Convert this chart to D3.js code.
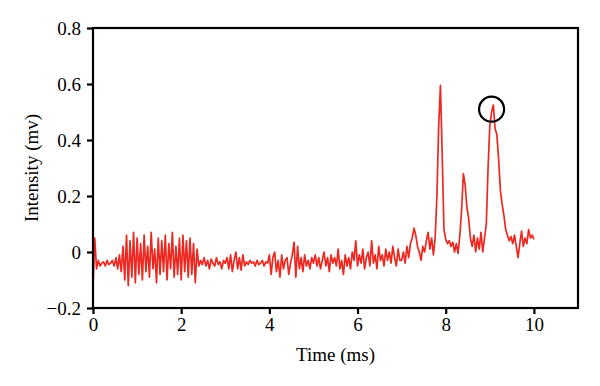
<!DOCTYPE html>
<html>
<head>
<meta charset="utf-8">
<script src="https://cdn.jsdelivr.net/npm/d3@7"></script>
<style>
  html, body { margin: 0; padding: 0; background: #fff; }
  svg { display: block; }
  .tick text { font-family: "Liberation Serif", "DejaVu Serif", serif; font-size: 19px; fill: #000; }
</style>
</head>
<body>
<svg id="chart" width="600" height="386"></svg>
<script>
// ---- data ----
const sampleInterval = 0.04; // ms between samples, starting at t = 0
const intensity = [
  // 0.00 - 0.96 ms
  -0.12, 0.05, -0.06, -0.03, -0.05, -0.04, -0.035, -0.05, -0.03, -0.045,
  -0.04, -0.03, -0.05, -0.02, -0.06, -0.01, -0.07, 0.02, -0.10, 0.06,
  -0.12, 0.04, -0.09, 0.07, -0.11,
  // 1.00 - 1.96 ms
  0.05, -0.08, 0.03, -0.10, 0.06, -0.07, 0.02, -0.09, 0.07, -0.06,
  0.01, -0.11, 0.05, -0.08, 0.04, -0.07, 0.06, -0.10, 0.03, -0.06,
  0.07, -0.09, 0.02, -0.08, 0.05,
  // 2.00 - 2.96 ms
  -0.10, 0.06, -0.07, 0.04, -0.09, 0.05, -0.08, 0.03, -0.11, 0.01,
  -0.05, -0.03, -0.045, -0.02, -0.05, -0.03, -0.06, -0.025, -0.04, -0.05,
  -0.02, -0.045, -0.035, -0.06, -0.03,
  // 3.00 - 3.96 ms
  -0.04, -0.02, -0.06, -0.01, -0.07, -0.03, 0.0, -0.06, -0.02, -0.065,
  -0.01, -0.05, -0.035, -0.045, -0.03, -0.04, -0.035, -0.05, -0.03, -0.045,
  -0.04, -0.03, -0.05, -0.035, -0.04,
  // 4.00 - 4.96 ms
  -0.01, -0.08, -0.02, 0.0, -0.07, -0.03, -0.09, -0.01, -0.06, -0.03,
  -0.02, -0.08, -0.04, -0.01, 0.035, -0.09, 0.02, -0.06, -0.02, -0.07,
  -0.01, -0.05, -0.03, -0.06, -0.02,
  // 5.00 - 5.96 ms
  -0.04, -0.01, -0.05, -0.02, -0.06, -0.03, 0.0, -0.05, -0.02, -0.07,
  -0.01, -0.04, -0.02, -0.05, 0.01, -0.06, -0.03, -0.08, -0.01, -0.05,
  -0.02, -0.06, 0.0, -0.03, 0.04,
  // 6.00 - 6.96 ms
  -0.05, -0.01, -0.04, 0.01, -0.06, -0.02, 0.0, -0.05, 0.04, -0.04,
  -0.01, -0.06, 0.02, -0.03, -0.01, -0.05, 0.01, -0.03, 0.0, -0.04,
  0.02, -0.02, -0.05, 0.01, -0.03,
  // 7.00 - 7.96 ms
  -0.03, 0.0, -0.04, 0.02, -0.02, 0.03, 0.05, 0.085, 0.06, 0.02,
  0.0, -0.03, 0.02, 0.0, 0.04, 0.07, 0.01, 0.05, -0.01, 0.05,
  0.2, 0.45, 0.595, 0.35, 0.08,
  // 8.00 - 8.96 ms
  0.045, 0.03, 0.04, 0.02, 0.035, 0.0, 0.03, -0.005, 0.06, 0.15,
  0.28, 0.24, 0.16, 0.12, 0.05, 0.02, 0.06, 0.0, 0.05, 0.01,
  0.07, 0.0, 0.05, 0.1, 0.3,
  // 9.00 - 10.00 ms
  0.45, 0.5, 0.525, 0.44, 0.42, 0.33, 0.22, 0.17, 0.13, 0.08,
  0.06, 0.04, 0.055, 0.03, 0.06, 0.02, -0.02, 0.03, 0.075, 0.02,
  0.05, 0.03, 0.08, 0.05, 0.06, 0.045
];
const xTicks = [0, 2, 4, 6, 8, 10];
const yTicks = [-0.2, 0, 0.2, 0.4, 0.6, 0.8];
const marker = { time: 9.04, value: 0.51 };
const xLabel = "Time (ms)";
const yLabel = "Intensity (mv)";

// ---- layout ----
const W = 600, H = 386;
const margin = { left: 93, top: 28, right: 22, bottom: 78 };
const iw = W - margin.left - margin.right;
const ih = H - margin.top - margin.bottom;

const svg = d3.select("#chart");
const g = svg.append("g").attr("transform", `translate(${margin.left},${margin.top})`);

const x = d3.scaleLinear().domain([0, 11]).range([0, iw]);
const y = d3.scaleLinear().domain([-0.2, 0.8]).range([ih, 0]);

const points = intensity.map((v, i) => ({ t: i * sampleInterval, v }));

// trace
const line = d3.line().x(d => x(d.t)).y(d => y(d.v));
g.append("path")
  .datum(points)
  .attr("fill", "none")
  .attr("stroke", "#ee2820")
  .attr("stroke-width", 1.7)
  .attr("stroke-linejoin", "round")
  .attr("d", line);

// frame
g.append("rect")
  .attr("x", 0).attr("y", 0).attr("width", iw).attr("height", ih)
  .attr("fill", "none").attr("stroke", "#000").attr("stroke-width", 2.2);

// axes
const fmtY = v => v === 0 ? "0" : d3.format(".1f")(v).replace("-", "\u2212");
const xAxis = g.append("g").attr("transform", `translate(0,${ih})`)
  .call(d3.axisBottom(x).tickValues(xTicks).tickSize(6).tickPadding(4).tickFormat(d3.format("d")));
const yAxis = g.append("g")
  .call(d3.axisLeft(y).tickValues(yTicks).tickSize(6).tickPadding(6).tickFormat(fmtY));
[xAxis, yAxis].forEach(a => {
  a.select(".domain").remove();
  a.selectAll(".tick line").attr("stroke", "#000").attr("stroke-width", 2.2);
});

// marker circle
g.append("circle")
  .attr("cx", x(marker.time)).attr("cy", y(marker.value)).attr("r", 12.5)
  .attr("fill", "none").attr("stroke", "#000").attr("stroke-width", 2.2);

// titles
svg.append("text")
  .attr("x", margin.left + x(5.5)).attr("y", 361)
  .attr("text-anchor", "middle")
  .attr("font-family", "Liberation Serif, DejaVu Serif, serif")
  .attr("font-size", 19).attr("fill", "#000")
  .text(xLabel);
svg.append("text")
  .attr("transform", `translate(38,${margin.top + ih / 2}) rotate(-90)`)
  .attr("text-anchor", "middle")
  .attr("font-family", "Liberation Serif, DejaVu Serif, serif")
  .attr("font-size", 19).attr("fill", "#000")
  .text(yLabel);
</script>
</body>
</html>
